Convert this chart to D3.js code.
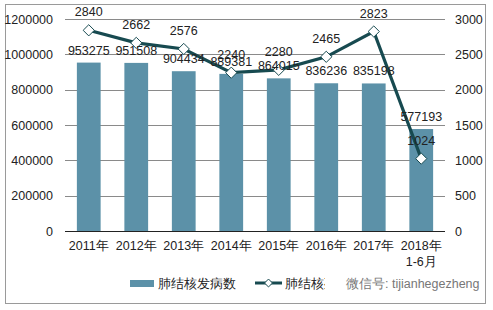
<!DOCTYPE html>
<html><head><meta charset="utf-8">
<script src="https://cdn.jsdelivr.net/npm/d3@7"></script>
<style>body{margin:0;background:#fff}svg{display:block;font-family:"Liberation Sans",Arial,sans-serif}</style>
</head><body><svg id="c" width="493" height="310"></svg>
<script>
const categories = ["2011年","2012年","2013年","2014年","2015年","2016年","2017年","2018年\n1-6月"];
const incidence = [953275,951508,904434,889381,864015,836236,835198,577193];
const deaths = [2840,2662,2576,2240,2280,2465,2823,1024];
const leftTicks = [0,200000,400000,600000,800000,1000000,1200000];
const rightTicks = [0,500,1000,1500,2000,2500,3000];
const legendLabels = ["肺结核发病数","肺结核死亡数"];

const svg = d3.select("#c");
const L=65,R=445,T=19,B=231;
const x = d3.scaleBand().domain(categories).range([L,R]).paddingInner(0.5).paddingOuter(0.25);
const yL = d3.scaleLinear().domain([0,1200000]).range([B,T]);
const yR = d3.scaleLinear().domain([0,3000]).range([B,T]);

svg.append("rect").attr("x",5.5).attr("y",4.5).attr("width",480).attr("height",299)
  .attr("fill","#fff").attr("stroke","#9a9a9a");

// gridlines
svg.append("g").selectAll("line").data(leftTicks.filter(d=>d>0)).join("line")
  .attr("x1",L).attr("x2",R).attr("y1",d=>Math.round(yL(d))+0.5).attr("y2",d=>Math.round(yL(d))+0.5)
  .attr("stroke","#8a8a8a").attr("stroke-width",1);

// left axis
const gl = svg.append("g").attr("transform",`translate(${L},0)`)
  .call(d3.axisLeft(yL).tickValues(leftTicks).tickSize(0).tickPadding(12).tickFormat(d3.format("d")));
gl.select(".domain").remove();
gl.selectAll("text").attr("font-size",12.5).attr("fill","#222").attr("font-family","Liberation Sans, Arial");

const gr = svg.append("g").attr("transform",`translate(${R},0)`)
  .call(d3.axisRight(yR).tickValues(rightTicks).tickSize(0).tickPadding(10).tickFormat(d3.format("d")));
gr.select(".domain").remove();
gr.selectAll("text").attr("font-size",12.5).attr("fill","#222").attr("font-family","Liberation Sans, Arial");

// bars
svg.append("g").selectAll("rect").data(incidence).join("rect")
  .attr("x",(d,i)=>x(categories[i])).attr("width",x.bandwidth())
  .attr("y",d=>yL(d)).attr("height",d=>B-yL(d)).attr("fill","#5c91a8");

// x axis line
svg.append("line").attr("x1",L).attr("x2",R).attr("y1",B+0.5).attr("y2",B+0.5).attr("stroke","#222").attr("stroke-width",1.2);

// x labels
const xl = svg.append("g").selectAll("text").data(categories).join("text")
  .attr("x",d=>x(d)+x.bandwidth()/2).attr("y",250).attr("text-anchor","middle")
  .attr("font-size",12.5).attr("fill","#222");
xl.each(function(d){
  const parts=d.split("\n");
  d3.select(this).selectAll("tspan").data(parts).join("tspan")
    .attr("x",x(d)+x.bandwidth()/2).attr("dy",(p,i)=>i?16:0).text(p=>p);
});

// line
const cx = (i)=>x(categories[i])+x.bandwidth()/2;
svg.append("path").datum(deaths)
  .attr("d",d3.line().x((d,i)=>cx(i)).y(d=>yR(d)))
  .attr("fill","none").attr("stroke","#174a50").attr("stroke-width",3.2);
const dia = d3.symbol().type(d3.symbolDiamond2).size(80);
svg.append("g").selectAll("path").data(deaths).join("path")
  .attr("transform",(d,i)=>`translate(${cx(i)},${yR(d)})`)
  .attr("d",dia).attr("fill","#fff").attr("stroke","#174a50").attr("stroke-width",1);

// bar labels
svg.append("g").selectAll("text").data(incidence).join("text")
  .attr("x",(d,i)=>cx(i)).attr("y",d=>yL(d)-8).attr("text-anchor","middle")
  .attr("font-size",12.5).attr("fill","#222").text(d=>d);
// line labels
svg.append("g").selectAll("text").data(deaths).join("text")
  .attr("x",(d,i)=>cx(i)).attr("y",d=>yR(d)-14).attr("text-anchor","middle")
  .attr("font-size",12.5).attr("fill","#222").text(d=>d);

// legend
const ly=283;
svg.append("rect").attr("x",130).attr("y",ly-3).attr("width",24).attr("height",7).attr("fill","#5c91a8");
svg.append("text").attr("x",158).attr("y",ly+5).attr("font-size",13).attr("fill","#222").text(legendLabels[0]);
svg.append("line").attr("x1",255).attr("x2",282).attr("y1",ly).attr("y2",ly).attr("stroke","#174a50").attr("stroke-width",3);
svg.append("path").attr("transform",`translate(268.5,${ly})`).attr("d",d3.symbol().type(d3.symbolDiamond2).size(40))
  .attr("fill","#fff").attr("stroke","#174a50");
svg.append("defs").append("clipPath").attr("id","lgclip").append("rect")
  .attr("x",280).attr("y",ly-12).attr("width",45).attr("height",24);
svg.append("text").attr("x",285).attr("y",ly+5).attr("font-size",13).attr("fill","#222")
  .attr("clip-path","url(#lgclip)").text(legendLabels[1]);
// watermark text overlay
svg.append("text").attr("x",346).attr("y",ly+5).attr("font-size",12.5).attr("fill","#777").text("微信号: tijianhegezheng");
</script></body></html>
